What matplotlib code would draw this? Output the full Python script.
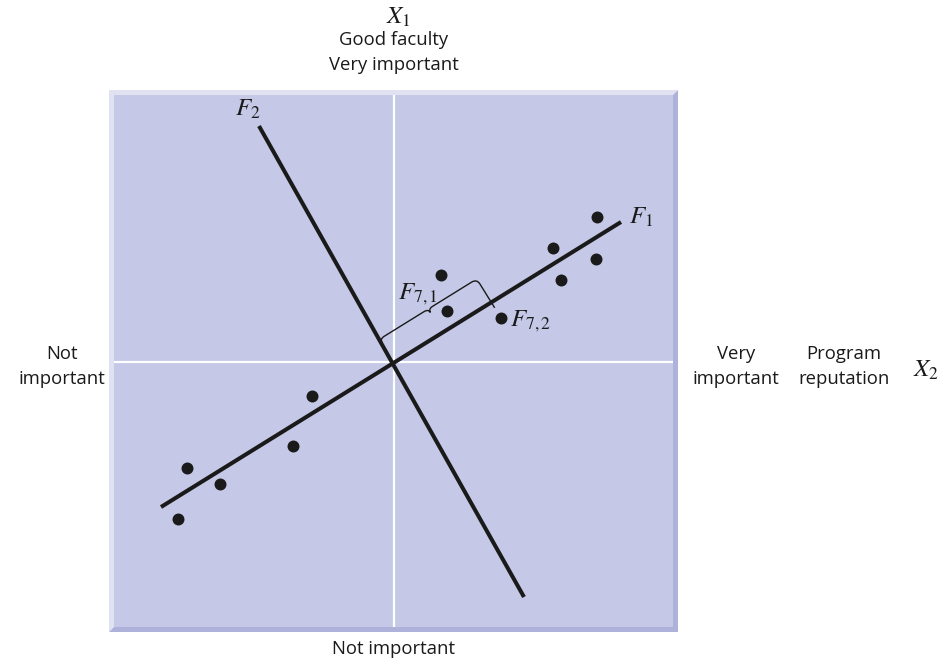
import numpy as np
import matplotlib
matplotlib.use("Agg")
import matplotlib.pyplot as plt
from matplotlib.patches import Polygon, PathPatch
from matplotlib.path import Path

plt.rcParams["mathtext.fontset"] = "stix"
TEXT_FONT = "Open Sans"

# Observations in the (X2, X1) plane, origin at the centre of the panel
pts_x = [2.03, 1.59, 2.02, 1.67, 0.47, 0.53, 1.07, -0.82, -1.01, -2.07, -1.74, -2.16]
pts_y = [1.45, 1.14, 1.03, 0.82, 0.87, 0.51, 0.44, -0.34, -0.84, -1.06, -1.22, -1.57]
highlight = 6  # observation 7, whose factor scores are marked

# Factor axes (end points)
f1_x = [-2.33, 2.27]
f1_y = [-1.45, 1.40]
f2_x = [-1.35, 1.30]
f2_y = [2.36, -2.35]

# Axis annotations
top_labels = ["Good faculty", "Very important"]
bottom_label = "Not important"
left_labels = ["Not", "important"]
right_labels = ["Very", "important"]
var_labels = ["Program", "reputation"]

# Panel extent
xlim = (-2.80, 2.79)
ylim = (-2.65, 2.67)
bevel = 0.05

fill_c = "#c5c8e6"
light_c = "#e1e2f1"
dark_c = "#aeb1d9"
ink = "#1a1a1a"

fig = plt.figure(figsize=(9.39, 6.61), dpi=100)
ax = fig.add_axes([114 / 939, 1 - 627 / 661, 559 / 939, 532 / 661])
ax.set_xlim(*xlim)
ax.set_ylim(*ylim)
ax.set_facecolor(fill_c)
for sp in ax.spines.values():
    sp.set_visible(False)
ax.set_xticks([])
ax.set_yticks([])

# Bevelled frame around the panel
x0, x1 = xlim
y0, y1 = ylim
X0, X1, Y0, Y1 = x0 - bevel, x1 + bevel, y0 - bevel, y1 + bevel
light = Polygon([(X0, Y0), (X0, Y1), (X1, Y1), (x1, y1), (x0, y1), (x0, y0)],
                closed=True, facecolor=light_c, edgecolor="none", clip_on=False, zorder=0)
dark = Polygon([(X1, Y1), (X1, Y0), (X0, Y0), (x0, y0), (x1, y0), (x1, y1)],
               closed=True, facecolor=dark_c, edgecolor="none", clip_on=False, zorder=0)
ax.add_patch(light)
ax.add_patch(dark)

# White reference axes
ax.axhline(0, color="white", lw=1.6, zorder=1)
ax.axvline(0, color="white", lw=1.6, zorder=1)

# Factor lines
ax.plot(f1_x, f1_y, color=ink, lw=2.9, solid_capstyle="butt", zorder=3)
ax.plot(f2_x, f2_y, color=ink, lw=2.9, solid_capstyle="butt", zorder=3)

# Observations
ax.plot(pts_x, pts_y, "o", color=ink, ms=8.6, mec="none", zorder=4)

# Brace showing the score of observation 7 along F1
d = np.array([f1_x[1] - f1_x[0], f1_y[1] - f1_y[0]])
u = d / np.hypot(*d)
n = np.array([-u[1], u[0]])
p7 = np.array([pts_x[highlight], pts_y[highlight]])
s_end = float(p7 @ u)
s_mid = s_end / 2
t = 0.27
st = [
    (0.0, 0.225),
    (0.0, t), (0.05, t),
    (s_mid - 0.05, t),
    (s_mid, t), (s_mid, t - 0.04),
    (s_mid, t), (s_mid + 0.05, t),
    (s_end - 0.06, t),
    (s_end, t), (s_end, t - 0.06),
    (s_end, -0.07),
]
codes = [Path.MOVETO,
         Path.CURVE3, Path.CURVE3,
         Path.LINETO,
         Path.CURVE3, Path.CURVE3,
         Path.CURVE3, Path.CURVE3,
         Path.LINETO,
         Path.CURVE3, Path.CURVE3,
         Path.LINETO]
verts = [tuple(s * u + tt * n) for s, tt in st]
ax.add_patch(PathPatch(Path(verts, codes), facecolor="none", edgecolor=ink,
                       lw=1.0, zorder=2))

# Factor labels
math_kw = dict(fontsize=18, color=ink, ha="center", va="center")
ax.text(-1.46, 2.53, r"$F_2$", **math_kw)
ax.text(2.47, 1.45, r"$F_1$", **math_kw)
ax.text(0.24, 0.68, r"$F_{7,1}$", **math_kw)
ax.text(1.37, 0.41, r"$F_{7,2}$", **math_kw)

# Variable labels outside the panel
txt_kw = dict(fontsize=13.3, color=ink, ha="center", va="center",
              family=TEXT_FONT, clip_on=False)
ax.text(0.04, 3.45, r"$X_1$", fontsize=18, color=ink, ha="center", va="center", clip_on=False)
ax.text(0.0, 3.22, top_labels[0], **txt_kw)
ax.text(0.0, 2.97, top_labels[1], **txt_kw)
ax.text(0.0, -2.87, bottom_label, **txt_kw)
ax.text(-3.32, 0.08, left_labels[0], **txt_kw)
ax.text(-3.32, -0.17, left_labels[1], **txt_kw)
ax.text(3.42, 0.08, right_labels[0], **txt_kw)
ax.text(3.42, -0.17, right_labels[1], **txt_kw)
ax.text(4.50, 0.08, var_labels[0], **txt_kw)
ax.text(4.50, -0.17, var_labels[1], **txt_kw)
ax.text(5.32, -0.08, r"$X_2$", fontsize=18, color=ink, ha="center", va="center", clip_on=False)

fig.savefig("out.png", dpi=100)
